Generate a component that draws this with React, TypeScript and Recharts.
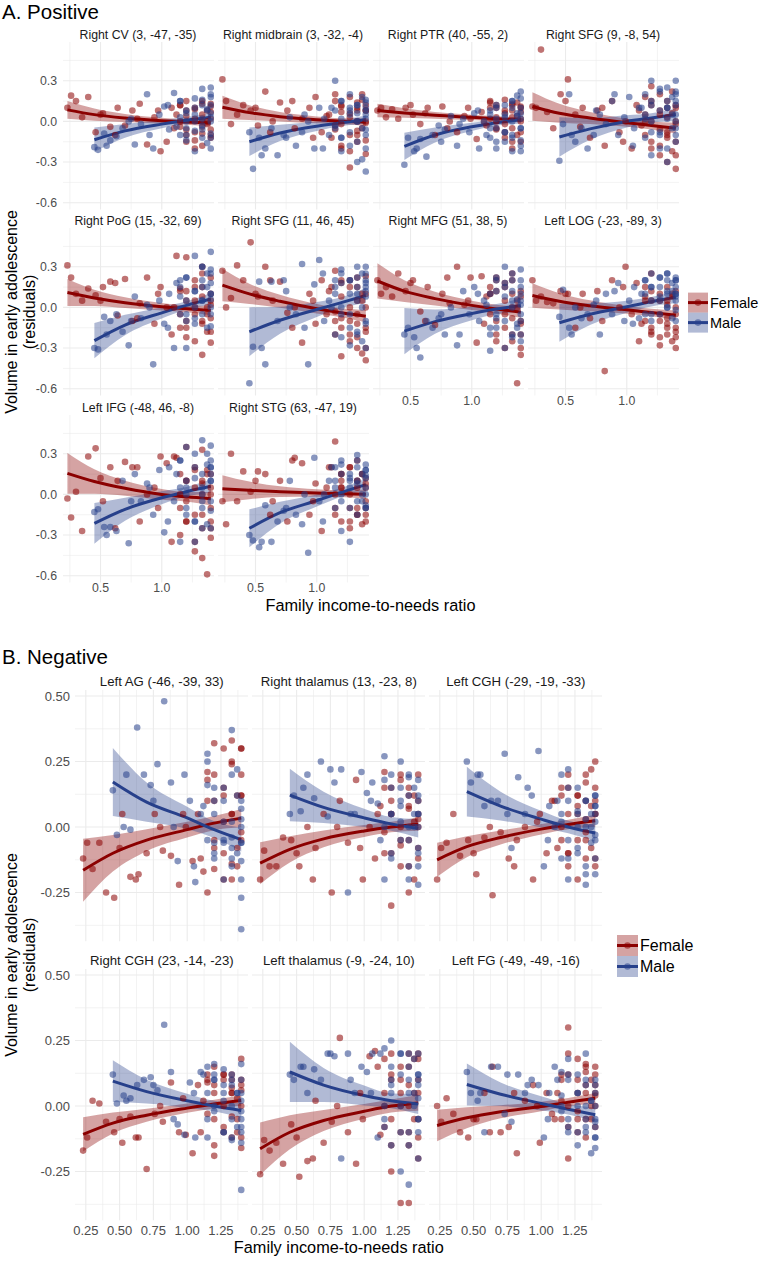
import React from "react";
import { Area, CartesianGrid, ComposedChart, Line, Scatter, XAxis, YAxis } from "recharts";

const RED = "#8b0000";
const BLUE = "#27408b";
const FONT = "'Liberation Sans', Arial, Helvetica, sans-serif";

// income-to-needs ratio of each subject (same subjects in every panel)
const femaleX = [
  0.23, 0.26, 0.3, 0.35, 0.4, 0.46, 0.52, 0.58, 0.64, 0.7,
  0.76, 0.82, 0.88, 0.94, 0.99, 1.04, 1.08, 1.12, 1.15, 1.15,
  1.15, 1.2, 1.2, 1.2, 1.2, 1.27, 1.27, 1.27, 1.27, 1.33,
  1.33, 1.33, 1.33, 1.33, 1.37, 1.37, 1.4, 1.4, 1.4, 1.4,
  0.5, 0.62, 0.8, 0.97, 1.1, 1.15, 1.2, 1.2, 1.27, 1.27,
  1.33, 1.33, 1.37, 1.4, 1.4, 1.4,
];
const maleX = [
  0.45, 0.48, 0.53, 0.58, 0.63, 0.68, 0.73, 0.78, 0.83, 0.88,
  0.93, 0.98, 1.02, 1.06, 1.1, 1.15, 1.15, 1.15, 1.2, 1.2,
  1.2, 1.2, 1.27, 1.27, 1.27, 1.27, 1.33, 1.33, 1.33, 1.33,
  1.33, 1.37, 1.37, 1.4, 1.4, 1.4, 1.4, 1.4, 1.4, 1.4,
  0.55, 0.75, 0.9, 1.05, 1.12, 1.15, 1.2, 1.2, 1.27, 1.27,
  1.33, 1.33, 1.37, 1.4, 1.4, 1.4,
];
// x positions where the fitted curves were read
const femaleFitX = [0.23, 0.45, 0.7, 1.0, 1.2, 1.4];
const maleFitX = [0.45, 0.7, 1.0, 1.2, 1.4];

const posYTicks = [-0.6, -0.3, 0, 0.3];
const posYMinor = [-0.45, -0.15, 0.15, 0.45];
const posXTicks = [0.5, 1.0];
const posXMinor = [0.25, 0.75, 1.25];
const negYTicks = [-0.25, 0, 0.25, 0.5];
const negYMinor = [-0.375, -0.125, 0.125, 0.375];
const negXTicks = [0.25, 0.5, 0.75, 1.0, 1.25];
const negXMinor = [0.375, 0.625, 0.875, 1.125, 1.375];

const rightCV = {
  title: "Right CV (3, -47, -35)",
  femaleY: [
    0.1, 0.19, 0.15, 0.03, 0.18, -0.08, 0.06, -0.04, 0.1, -0.03,
    0.08, 0.13, -0.17, 0.03, -0.22, -0.15, 0.1, 0.05, 0.12, -0.04,
    0.0, 0.15, -0.1, 0.08, -0.06, 0.1, 0.02, -0.14, -0.2, 0.13,
    0.05, -0.09, 0.0, -0.18, 0.08, -0.02, 0.11, -0.12, 0.02, -0.06,
    0.05, -0.1, 0.02, 0.08, -0.05, 0.12, -0.15, 0.04, 0.09, -0.08,
    0.15, -0.04, 0.0, 0.07, -0.1, 0.13,
  ],
  maleY: [
    -0.19, -0.21, -0.09, -0.14, -0.11, -0.05, 0.0, -0.17, -0.02, 0.2,
    -0.2, 0.05, 0.11, -0.06, 0.21, 0.03, -0.1, 0.15, -0.05, 0.08,
    -0.14, 0.0, 0.17, -0.07, 0.05, -0.22, 0.12, 0.02, -0.12, 0.24,
    -0.03, 0.09, -0.16, 0.06, 0.18, -0.09, 0.0, 0.25, -0.2, 0.12,
    -0.18, 0.02, -0.1, 0.12, -0.04, 0.15, 0.06, -0.1, 0.1, 0.0,
    -0.06, 0.16, 0.08, -0.12, 0.03, 0.2,
  ],
  femaleFit: [0.085, 0.05, 0.025, 0.005, -0.005, -0.012],
  femaleSe: [0.065, 0.045, 0.03, 0.022, 0.02, 0.025],
  maleFit: [-0.135, -0.07, -0.02, 0.008, 0.03],
  maleSe: [0.09, 0.05, 0.03, 0.025, 0.03],
};

const rightMidbrain = {
  title: "Right midbrain (3, -32, -4)",
  femaleY: [
    0.31, 0.15, -0.02, 0.05, 0.12, 0.08, -0.03, 0.22, 0.0, 0.14,
    0.08, -0.05, 0.02, 0.1, 0.18, -0.08, 0.04, -0.12, 0.15, -0.03,
    0.2, 0.07, -0.2, -0.02, 0.11, 0.18, -0.1, 0.03, -0.34, 0.08,
    -0.07, 0.14, 0.0, -0.15, 0.2, -0.05, 0.08, -0.24, 0.12, -0.01,
    0.1, -0.08, 0.15, -0.12, 0.05, -0.06, 0.12, -0.18, 0.06, -0.22,
    0.1, -0.1, 0.16, 0.0, -0.14, 0.08,
  ],
  maleY: [
    -0.08, -0.35, -0.12, -0.2, -0.05, -0.25, -0.1, 0.03, -0.18, -0.08,
    0.0, -0.2, 0.1, 0.02, -0.1, 0.3, -0.05, 0.08, -0.12, 0.15,
    0.02, -0.22, 0.05, 0.2, -0.08, 0.1, -0.3, 0.0, 0.12, -0.15,
    0.06, 0.18, -0.05, -0.37, 0.08, 0.14, -0.1, 0.02, -0.2, 0.05,
    -0.25, -0.12, 0.05, -0.2, 0.1, -0.03, 0.15, -0.12, 0.08, -0.18,
    0.12, 0.0, -0.28, 0.1, -0.06, 0.16,
  ],
  femaleFit: [0.105, 0.065, 0.035, 0.012, 0.002, -0.005],
  femaleSe: [0.085, 0.055, 0.035, 0.025, 0.022, 0.028],
  maleFit: [-0.15, -0.085, -0.035, -0.01, 0.012],
  maleSe: [0.105, 0.06, 0.035, 0.025, 0.032],
};

const rightPTR = {
  title: "Right PTR (40, -55, 2)",
  femaleY: [
    0.08, 0.1, 0.03, 0.09, 0.02, 0.1, 0.05, -0.02, 0.1, -0.1,
    0.11, 0.0, -0.08, 0.04, 0.02, -0.13, 0.07, -0.03, 0.02, 0.1,
    0.15, 0.0, -0.05, 0.12, 0.03, 0.16, -0.08, 0.06, -0.12, 0.13,
    0.03, -0.2, 0.08, -0.05, 0.14, -0.1, 0.02, 0.07, -0.15, 0.1,
    0.12, 0.06, -0.05, 0.1, 0.0, 0.14, -0.06, 0.1, -0.02, 0.08,
    -0.15, 0.12, 0.04, -0.08, 0.11, 0.0,
  ],
  maleY: [
    -0.32, -0.12, -0.22, -0.13, -0.26, -0.1, -0.03, -0.06, 0.04, -0.18,
    0.02, -0.08, 0.06, -0.2, 0.0, -0.12, 0.08, -0.05, 0.1, -0.2,
    0.02, -0.05, 0.05, -0.15, 0.12, -0.08, 0.1, -0.22, 0.0, 0.15,
    -0.1, 0.04, 0.19, -0.05, -0.14, 0.06, 0.02, 0.22, -0.18, 0.1,
    -0.2, -0.15, -0.02, 0.08, -0.1, 0.05, -0.15, 0.12, 0.03, -0.08,
    0.15, -0.12, 0.06, 0.17, -0.05, -0.22,
  ],
  femaleFit: [0.08, 0.062, 0.045, 0.03, 0.02, 0.012],
  femaleSe: [0.05, 0.035, 0.025, 0.02, 0.018, 0.02],
  maleFit: [-0.184, -0.1, -0.04, -0.01, 0.012],
  maleSe: [0.1, 0.055, 0.03, 0.022, 0.028],
};

const rightSFG1 = {
  title: "Right SFG (9, -8, 54)",
  femaleY: [
    0.11, 0.1, 0.53, 0.07, -0.05, 0.2, 0.31, 0.05, 0.1, -0.12,
    0.08, -0.18, 0.15, -0.08, 0.0, -0.2, 0.12, -0.03, 0.18, -0.1,
    0.05, 0.26, -0.15, 0.0, 0.12, -0.25, 0.08, -0.06, 0.2, -0.3,
    0.03, -0.12, 0.15, -0.08, -0.22, 0.06, -0.35, 0.1, -0.02, -0.15,
    0.15, -0.04, 0.1, -0.15, 0.08, 0.0, -0.2, 0.15, 0.05, -0.18,
    0.1, -0.1, 0.22, -0.25, 0.0, 0.12,
  ],
  maleY: [
    -0.29, -0.02, 0.2, -0.15, -0.05, -0.2, -0.1, 0.05, -0.02, 0.15,
    -0.1, 0.03, 0.18, -0.05, 0.1, 0.2, -0.12, 0.05, 0.3, -0.08,
    0.12, 0.0, 0.22, -0.1, 0.08, -0.2, 0.15, 0.02, -0.3, 0.1,
    0.25, -0.05, 0.18, 0.0, -0.15, 0.12, 0.3, -0.1, 0.05, 0.2,
    -0.1, 0.08, 0.2, -0.18, 0.1, 0.02, -0.25, 0.15, 0.24, -0.08,
    0.1, -0.2, 0.05, 0.15, -0.05, 0.22,
  ],
  femaleFit: [0.11, 0.06, 0.025, -0.01, -0.03, -0.05],
  femaleSe: [0.105, 0.07, 0.045, 0.03, 0.03, 0.04],
  maleFit: [-0.115, -0.055, 0.0, 0.025, 0.05],
  maleSe: [0.145, 0.08, 0.045, 0.035, 0.045],
};

const rightPoG = {
  title: "Right PoG (15, -32, 69)",
  femaleY: [
    0.31, 0.22, 0.1, 0.05, 0.14, 0.09, 0.15, 0.19, -0.06, 0.21,
    -0.1, 0.03, 0.22, -0.12, 0.15, 0.0, -0.2, 0.38, 0.12, -0.05,
    0.14, -0.1, 0.05, 0.37, -0.15, 0.2, -0.05, 0.0, -0.25, 0.3,
    -0.12, 0.08, -0.35, 0.15, 0.0, -0.18, 0.22, -0.08, 0.05, -0.26,
    0.05, 0.18, -0.08, 0.1, 0.0, -0.15, 0.12, -0.22, 0.05, 0.15,
    -0.1, 0.25, -0.05, 0.1, -0.18, 0.02,
  ],
  maleY: [
    -0.3, -0.31, -0.07, -0.1, -0.05, -0.18, -0.28, 0.08, -0.08, 0.02,
    -0.42, 0.05, -0.12, 0.1, -0.3, 0.2, -0.05, 0.15, 0.22, -0.1,
    0.05, -0.3, 0.12, 0.38, 0.0, -0.12, 0.2, 0.05, 0.3, -0.05,
    0.15, -0.15, 0.25, 0.1, 0.41, 0.0, 0.28, -0.14, 0.18, 0.06,
    -0.2, -0.1, 0.0, -0.15, 0.18, 0.08, -0.05, 0.22, 0.12, -0.08,
    0.3, 0.05, 0.15, -0.05, 0.25, 0.1,
  ],
  femaleFit: [0.11, 0.07, 0.035, 0.005, -0.01, -0.022],
  femaleSe: [0.1, 0.06, 0.04, 0.028, 0.025, 0.035],
  maleFit: [-0.245, -0.13, -0.04, 0.015, 0.062],
  maleSe: [0.13, 0.075, 0.042, 0.03, 0.045],
};

const rightSFG2 = {
  title: "Right SFG (11, 46, 45)",
  femaleY: [
    0.27, 0.0, 0.07, 0.31, 0.2, 0.48, 0.08, 0.3, 0.05, 0.19,
    -0.04, 0.0, -0.26, 0.1, -0.12, 0.2, -0.05, 0.15, -0.1, 0.27,
    -0.03, 0.2, -0.15, 0.08, -0.36, 0.2, -0.2, 0.15, -0.1, 0.05,
    -0.3, 0.22, -0.22, -0.05, 0.1, -0.34, 0.0, -0.15, 0.23, -0.39,
    0.1, 0.2, -0.15, 0.05, 0.12, -0.2, 0.18, -0.08, 0.0, -0.25,
    0.15, -0.12, 0.05, -0.3, 0.1, -0.18,
  ],
  maleY: [
    -0.56, -0.29, 0.19, -0.42, 0.19, -0.1, 0.2, 0.0, -0.05, 0.32,
    -0.42, 0.17, 0.35, -0.1, 0.05, 0.2, -0.2, 0.1, 0.18, -0.05,
    0.25, 0.0, -0.15, 0.2, 0.1, -0.28, 0.3, 0.05, -0.2, 0.15,
    0.22, 0.0, -0.25, 0.12, 0.3, -0.12, 0.2, 0.08, -0.3, 0.25,
    -0.3, 0.12, -0.15, 0.25, 0.0, 0.15, -0.22, 0.28, -0.05, 0.2,
    0.1, -0.18, 0.25, 0.15, -0.1, 0.18,
  ],
  femaleFit: [0.165, 0.1, 0.045, -0.01, -0.04, -0.065],
  femaleSe: [0.12, 0.075, 0.048, 0.035, 0.033, 0.045],
  maleFit: [-0.18, -0.095, -0.015, 0.035, 0.088],
  maleSe: [0.18, 0.1, 0.055, 0.04, 0.055],
};

const rightMFG = {
  title: "Right MFG (51, 38, 5)",
  femaleY: [
    0.2, 0.1, 0.15, 0.08, 0.25, 0.12, 0.2, -0.03, 0.15, -0.13,
    0.1, 0.03, 0.3, 0.02, 0.22, -0.26, 0.23, 0.08, 0.1, -0.05,
    0.15, -0.1, 0.22, -0.2, 0.12, 0.05, -0.3, 0.18, -0.15, 0.0,
    0.2, -0.08, -0.25, 0.1, -0.56, 0.05, -0.12, -0.2, 0.08, -0.3,
    0.18, -0.1, 0.22, 0.05, -0.12, 0.1, 0.2, -0.25, -0.05, 0.15,
    0.25, -0.2, 0.0, -0.35, 0.12, -0.1,
  ],
  maleY: [
    -0.2, -0.15, -0.22, -0.37, -0.1, -0.15, -0.08, -0.2, 0.0, -0.28,
    0.12, -0.05, 0.15, -0.1, 0.05, -0.2, 0.1, -0.32, 0.12, -0.05,
    0.2, -0.15, 0.08, 0.3, -0.1, 0.18, -0.22, 0.0, 0.2, 0.12,
    -0.2, 0.06, -0.15, 0.28, -0.05, 0.1, 0.15, -0.25, 0.05, -0.1,
    -0.3, -0.05, -0.2, 0.1, 0.02, -0.15, 0.22, -0.08, 0.15, -0.3,
    0.05, 0.25, -0.12, 0.2, -0.2, 0.02,
  ],
  femaleFit: [0.195, 0.12, 0.065, 0.015, -0.012, -0.035],
  femaleSe: [0.13, 0.08, 0.05, 0.035, 0.032, 0.042],
  maleFit: [-0.175, -0.105, -0.045, -0.012, 0.015],
  maleSe: [0.17, 0.09, 0.05, 0.037, 0.05],
};

const leftLOG = {
  title: "Left LOG (-23, -89, 3)",
  femaleY: [
    0.2, 0.05, 0.08, 0.04, 0.03, 0.12, 0.1, -0.15, 0.1, -0.08,
    0.12, -0.47, 0.2, 0.0, 0.3, -0.05, 0.18, -0.12, 0.15, 0.08,
    -0.1, 0.25, -0.2, 0.05, -0.15, 0.1, -0.05, -0.22, 0.05, -0.12,
    0.15, -0.2, -0.08, 0.02, -0.25, 0.08, -0.15, 0.12, -0.05, -0.18,
    0.1, 0.0, -0.1, 0.15, -0.25, 0.05, -0.18, 0.12, -0.1, -0.28,
    0.05, -0.15, 0.1, -0.22, -0.3, 0.0,
  ],
  maleY: [
    -0.07, 0.13, -0.15, 0.0, -0.08, -0.05, 0.02, -0.2, 0.1, -0.05,
    0.18, -0.1, 0.05, 0.15, -0.08, 0.2, 0.1, -0.05, 0.25, 0.05,
    0.15, -0.1, 0.22, 0.08, 0.15, -0.05, 0.2, 0.1, 0.0, 0.25,
    0.12, -0.08, 0.18, 0.05, 0.22, 0.1, 0.15, -0.02, 0.08, 0.2,
    -0.2, 0.05, 0.12, -0.12, 0.1, 0.2, -0.05, 0.15, 0.22, 0.05,
    0.25, 0.0, 0.12, 0.2, -0.1, 0.1,
  ],
  femaleFit: [0.088, 0.045, 0.012, -0.018, -0.038, -0.058],
  femaleSe: [0.09, 0.06, 0.04, 0.028, 0.028, 0.035],
  maleFit: [-0.113, -0.05, 0.005, 0.042, 0.075],
  maleSe: [0.14, 0.08, 0.045, 0.035, 0.045],
};

const leftIFG = {
  title: "Left IFG (-48, 46, -8)",
  femaleY: [
    -0.03, -0.17, 0.02, -0.27, 0.28, 0.34, -0.05, 0.2, 0.1, 0.24,
    0.2, -0.2, 0.0, 0.05, 0.28, 0.23, -0.35, 0.27, 0.0, 0.15,
    -0.1, 0.35, -0.2, 0.1, -0.05, 0.18, -0.42, 0.05, -0.15, 0.33,
    -0.47, 0.1, -0.25, 0.0, -0.59, 0.15, -0.1, -0.2, 0.05, -0.25,
    0.12, -0.25, 0.2, -0.1, 0.28, -0.3, 0.1, -0.2, 0.2, -0.35,
    0.08, -0.15, 0.18, -0.32, 0.0, 0.15,
  ],
  maleY: [
    -0.13, -0.11, -0.24, -0.24, -0.27, 0.1, -0.36, 0.15, -0.05, 0.08,
    -0.15, 0.18, -0.28, 0.2, -0.05, 0.25, -0.35, 0.05, 0.1, -0.15,
    0.0, 0.35, -0.2, 0.12, -0.35, 0.2, 0.0, -0.25, 0.4, 0.05,
    -0.1, 0.3, -0.22, 0.1, 0.2, -0.05, 0.25, 0.15, -0.12, 0.36,
    -0.3, -0.05, 0.05, -0.2, 0.15, 0.25, -0.1, 0.05, 0.3, -0.2,
    0.15, -0.05, 0.22, 0.1, -0.25, 0.2,
  ],
  femaleFit: [0.155, 0.095, 0.045, 0.0, -0.018, -0.032],
  femaleSe: [0.15, 0.09, 0.055, 0.04, 0.035, 0.05],
  maleFit: [-0.214, -0.11, -0.025, 0.02, 0.06],
  maleSe: [0.15, 0.085, 0.048, 0.035, 0.05],
};

const rightSTG = {
  title: "Right STG (63, -47, 19)",
  femaleY: [
    -0.05, -0.22, 0.3, -0.05, 0.17, 0.02, 0.17, 0.15, -0.05, 0.1,
    -0.2, 0.27, 0.23, -0.15, 0.08, -0.27, 0.05, 0.2, -0.15, 0.0,
    0.39, 0.1, -0.2, 0.05, 0.15, -0.1, 0.2, -0.25, 0.0, 0.1,
    -0.15, 0.25, 0.05, -0.1, 0.15, -0.22, 0.08, -0.05, 0.12, -0.2,
    0.1, -0.15, 0.25, -0.05, 0.2, -0.1, 0.15, 0.05, -0.2, 0.2,
    0.1, -0.15, 0.15, -0.1, 0.05, -0.15,
  ],
  maleY: [
    -0.3, -0.34, -0.39, -0.08, -0.35, -0.2, -0.12, 0.1, -0.15, -0.22,
    -0.43, 0.27, -0.05, 0.0, 0.1, 0.2, -0.1, 0.05, 0.15, -0.27,
    0.22, 0.0, 0.1, -0.35, 0.12, 0.05, 0.29, -0.15, 0.2, 0.08,
    -0.05, 0.15, 0.0, 0.22, -0.1, 0.12, 0.05, 0.18, -0.08, 0.14,
    -0.35, -0.1, 0.0, -0.2, 0.2, 0.1, -0.05, 0.25, 0.15, -0.1,
    0.1, 0.25, -0.05, 0.18, 0.0, -0.1,
  ],
  femaleFit: [0.042, 0.03, 0.02, 0.01, 0.005, 0.002],
  femaleSe: [0.1, 0.065, 0.04, 0.028, 0.025, 0.035],
  maleFit: [-0.25, -0.135, -0.045, 0.015, 0.072],
  maleSe: [0.14, 0.08, 0.045, 0.032, 0.045],
};

const leftAG = {
  title: "Left AG (-46, -39, 33)",
  femaleY: [
    -0.12, -0.06, -0.16, -0.06, -0.25, -0.27, 0.05, -0.19, -0.18, -0.1,
    0.05, -0.09, -0.11, -0.22, 0.0, -0.13, 0.05, -0.17, 0.21, -0.25,
    0.18, 0.32, -0.05, 0.1, -0.16, 0.3, 0.12, -0.1, 0.02, 0.24,
    -0.2, 0.33, 0.05, -0.14, 0.12, -0.08, 0.2, 0.3, -0.02, 0.12,
    -0.08, -0.2, 0.0, 0.05, -0.12, 0.1, 0.2, -0.08, 0.15, -0.2,
    0.05, 0.25, -0.15, 0.12, -0.05, 0.3,
  ],
  maleY: [
    0.14, -0.03, 0.0, -0.01, 0.38, 0.2, 0.16, 0.24, 0.48, 0.17,
    -0.13, 0.2, 0.1, -0.21, 0.05, 0.16, 0.28, -0.05, -0.06, -0.12,
    0.15, 0.05, -0.2, 0.1, -0.06, 0.02, -0.08, 0.2, -0.15, 0.37,
    -0.04, 0.12, -0.1, -0.27, 0.0, -0.06, -0.39, 0.07, -0.13, 0.03,
    0.2, 0.1, 0.0, -0.15, 0.08, 0.25, -0.1, 0.1, -0.05, 0.15,
    0.02, -0.12, 0.22, -0.06, 0.1, -0.2,
  ],
  femaleFit: [-0.165, -0.1, -0.05, -0.01, 0.015, 0.034],
  femaleSe: [0.12, 0.07, 0.042, 0.03, 0.027, 0.035],
  maleFit: [0.172, 0.095, 0.035, -0.01, -0.048],
  maleSe: [0.13, 0.075, 0.042, 0.032, 0.045],
};

const rightThalamus = {
  title: "Right thalamus (13, -23, 8)",
  femaleY: [
    -0.2, -0.09, -0.15, -0.15, -0.04, -0.05, -0.15, 0.0, -0.08, 0.05,
    -0.25, 0.1, -0.06, 0.18, -0.2, 0.0, -0.12, 0.08, -0.02, 0.21,
    -0.1, 0.15, -0.3, 0.05, 0.1, -0.07, 0.2, -0.15, 0.0, 0.12,
    -0.25, 0.07, -0.05, 0.15, -0.2, 0.02, 0.1, -0.12, 0.05, 0.0,
    -0.1, -0.2, 0.0, -0.08, 0.05, 0.15, -0.1, 0.05, 0.18, -0.05,
    0.08, -0.15, 0.12, -0.08, 0.2, 0.03,
  ],
  maleY: [
    0.05, 0.12, 0.06, 0.2, 0.11, 0.25, 0.04, 0.17, 0.22, -0.25,
    0.05, 0.21, 0.13, 0.17, 0.09, 0.27, -0.2, 0.0, 0.15, 0.05,
    0.2, -0.1, 0.1, -0.05, 0.25, 0.02, -0.15, 0.12, 0.0, 0.19,
    -0.2, 0.05, 0.15, -0.08, 0.0, 0.12, -0.22, 0.05, 0.18, -0.1,
    0.15, 0.22, 0.05, 0.1, -0.05, 0.18, 0.05, -0.12, 0.08, 0.15,
    -0.05, 0.2, 0.0, 0.1, -0.15, 0.05,
  ],
  femaleFit: [-0.138, -0.085, -0.045, -0.015, 0.0, 0.011],
  femaleSe: [0.08, 0.05, 0.032, 0.023, 0.02, 0.025],
  maleFit: [0.122, 0.075, 0.035, 0.012, -0.005],
  maleSe: [0.1, 0.06, 0.035, 0.026, 0.035],
};

const leftCGH = {
  title: "Left CGH (-29, -19, -33)",
  femaleY: [
    -0.2, -0.08, -0.06, 0.05, -0.11, -0.05, -0.18, -0.04, -0.26, -0.02,
    -0.12, -0.05, 0.0, -0.2, 0.05, -0.1, 0.1, -0.08, 0.12, 0.0,
    0.15, -0.15, 0.05, 0.2, -0.1, 0.12, -0.05, 0.08, -0.2, 0.17,
    0.03, -0.12, 0.1, -0.02, 0.22, -0.08, 0.05, 0.25, -0.15, 0.1,
    -0.1, 0.0, -0.15, 0.02, 0.1, -0.05, 0.15, -0.1, 0.05, 0.12,
    -0.05, 0.2, 0.08, -0.12, 0.05, 0.15,
  ],
  maleY: [
    0.25, 0.17, 0.2, 0.08, 0.1, 0.1, 0.28, -0.08, 0.19, 0.05,
    0.12, 0.29, -0.15, 0.08, 0.0, 0.2, -0.12, 0.05, 0.22, -0.05,
    0.1, -0.2, 0.0, 0.06, -0.1, 0.15, 0.03, -0.18, 0.1, 0.0,
    -0.22, 0.05, -0.06, 0.08, -0.12, 0.02, -0.03, 0.12, -0.18, 0.05,
    0.2, 0.05, 0.15, -0.05, 0.1, 0.02, -0.12, 0.15, 0.05, -0.08,
    0.1, -0.15, 0.0, 0.08, -0.05, 0.12,
  ],
  femaleFit: [-0.125, -0.075, -0.04, -0.008, 0.01, 0.024],
  femaleSe: [0.065, 0.04, 0.027, 0.02, 0.018, 0.023],
  maleFit: [0.135, 0.08, 0.03, 0.0, -0.023],
  maleSe: [0.095, 0.055, 0.032, 0.024, 0.032],
};

const rightCGH = {
  title: "Right CGH (23, -14, -23)",
  femaleY: [
    -0.17, -0.12, 0.02, 0.01, -0.06, -0.1, -0.14, -0.04, -0.12, -0.24,
    -0.03, -0.06, 0.09, -0.1, -0.11, -0.18, 0.08, 0.02, 0.09, -0.03,
    0.1, 0.15, -0.19, 0.05, -0.15, 0.12, 0.0, -0.08, 0.1, 0.05,
    -0.12, 0.07, 0.12, -0.04, -0.1, 0.03, 0.18, -0.16, 0.06, 0.0,
    -0.05, -0.12, 0.0, 0.03, -0.1, 0.12, 0.08, -0.05, 0.12, -0.1,
    0.05, 0.1, -0.05, 0.08, -0.12, 0.1,
  ],
  maleY: [
    0.12, 0.01, 0.04, 0.03, 0.08, 0.1, 0.11, 0.06, 0.31, 0.13,
    -0.07, -0.11, 0.09, -0.12, 0.13, 0.15, -0.12, 0.05, 0.16, -0.02,
    0.1, 0.12, -0.1, 0.05, 0.02, 0.14, -0.05, 0.08, -0.13, 0.1,
    0.0, -0.08, 0.05, 0.16, -0.1, -0.02, 0.05, -0.32, -0.14, 0.02,
    0.02, 0.08, -0.05, 0.05, 0.12, -0.05, 0.1, 0.0, -0.1, 0.08,
    0.12, -0.12, 0.05, -0.05, 0.1, -0.08,
  ],
  femaleFit: [-0.108, -0.065, -0.035, -0.008, 0.008, 0.021],
  femaleSe: [0.065, 0.04, 0.025, 0.018, 0.016, 0.02],
  maleFit: [0.095, 0.055, 0.02, 0.0, -0.017],
  maleSe: [0.08, 0.045, 0.027, 0.02, 0.028],
};

const leftThalamus = {
  title: "Left thalamus (-9, -24, 10)",
  femaleY: [
    -0.26, -0.13, -0.17, -0.14, -0.22, -0.07, -0.27, -0.21, 0.02, -0.14,
    -0.06, 0.26, -0.1, -0.22, -0.05, 0.19, 0.21, -0.11, 0.0, 0.05,
    0.18, -0.05, 0.1, -0.25, 0.12, -0.37, 0.05, 0.15, -0.1, 0.2,
    -0.37, 0.08, -0.15, 0.0, 0.18, -0.05, 0.1, -0.2, 0.05, 0.18,
    -0.12, -0.2, 0.0, 0.05, 0.15, -0.08, 0.2, -0.15, 0.1, 0.0,
    -0.1, 0.15, 0.05, -0.12, 0.2, -0.05,
  ],
  maleY: [
    0.12, 0.1, 0.15, 0.05, 0.14, 0.1, 0.2, 0.19, -0.2, 0.2,
    0.05, 0.15, 0.13, 0.2, -0.12, 0.0, 0.22, -0.08, 0.25, 0.05,
    -0.15, 0.1, 0.2, -0.25, 0.0, 0.12, -0.3, 0.15, 0.05, 0.2,
    -0.1, 0.0, 0.18, -0.05, 0.1, -0.2, 0.12, 0.03, -0.1, 0.08,
    0.15, 0.2, 0.1, 0.05, 0.2, -0.05, 0.15, 0.08, -0.1, 0.2,
    0.1, -0.15, 0.05, 0.2, -0.05, 0.12,
  ],
  femaleFit: [-0.163, -0.1, -0.055, -0.02, 0.0, 0.012],
  femaleSe: [0.1, 0.065, 0.04, 0.028, 0.025, 0.03],
  maleFit: [0.13, 0.08, 0.04, 0.02, 0.008],
  maleSe: [0.115, 0.065, 0.038, 0.028, 0.038],
};

const leftFG = {
  title: "Left FG (-49, -49, -16)",
  femaleY: [
    0.0, -0.06, 0.03, -0.03, -0.1, -0.12, -0.05, 0.05, 0.15, -0.1,
    -0.08, -0.18, 0.02, 0.08, -0.14, 0.05, -0.03, 0.05, -0.05, 0.02,
    0.1, -0.2, 0.0, 0.12, 0.3, -0.05, 0.18, 0.05, -0.1, 0.16,
    0.05, -0.05, 0.13, -0.12, 0.0, 0.1, 0.08, 0.15, -0.08, 0.04,
    -0.05, -0.1, 0.05, 0.0, -0.05, 0.12, 0.2, -0.08, 0.1, -0.02,
    0.08, 0.15, -0.05, 0.12, 0.05, 0.0,
  ],
  maleY: [
    0.13, 0.05, 0.02, -0.1, 0.15, 0.15, -0.03, -0.06, 0.12, 0.05,
    0.1, 0.08, -0.12, 0.05, 0.15, 0.13, -0.02, 0.04, -0.05, 0.18,
    0.1, -0.1, 0.05, -0.15, 0.0, 0.12, -0.08, 0.2, 0.0, -0.1,
    0.08, -0.18, 0.02, -0.05, 0.1, -0.12, 0.0, -0.06, -0.16, 0.05,
    0.05, 0.12, 0.08, -0.05, 0.1, 0.0, -0.08, 0.12, 0.05, -0.1,
    0.1, -0.05, 0.02, -0.12, 0.08, -0.08,
  ],
  femaleFit: [-0.074, -0.045, -0.022, -0.002, 0.015, 0.03],
  femaleSe: [0.06, 0.04, 0.025, 0.018, 0.016, 0.02],
  maleFit: [0.082, 0.045, 0.01, -0.012, -0.033],
  maleSe: [0.08, 0.045, 0.027, 0.02, 0.027],
};

const positivePanels = [
  rightCV, rightMidbrain, rightPTR, rightSFG1,
  rightPoG, rightSFG2, rightMFG, leftLOG,
  leftIFG, rightSTG,
];
const negativePanels = [leftAG, rightThalamus, leftCGH, rightCGH, leftThalamus, leftFG];

type PanelData = typeof rightCV;

type Cfg = {
  xDomain: [number, number];
  yDomain: [number, number];
  yTicks: number[];
  yMinor: number[];
  xTicks: number[];
  xMinor: number[];
  digitsY: number;
  digitsX: number;
  w: number;
  h: number;
  tick: number;
  yAxisW: number;
  xAxisH: number;
  marginX: number;
  marginY: number;
};

const posCfg: Cfg = {
  xDomain: [0.194, 1.426],
  yDomain: [-0.65, 0.586],
  yTicks: posYTicks,
  yMinor: posYMinor,
  xTicks: posXTicks,
  xMinor: posXMinor,
  digitsY: 1,
  digitsX: 1,
  w: 151,
  h: 167.5,
  tick: 12.3,
  yAxisW: 45,
  xAxisH: 22,
  marginX: 1,
  marginY: 6,
};

const negCfg: Cfg = {
  xDomain: [0.17, 1.45],
  yDomain: [-0.436, 0.523],
  yTicks: negYTicks,
  yMinor: negYMinor,
  xTicks: negXTicks,
  xMinor: negXMinor,
  digitsY: 2,
  digitsX: 2,
  w: 173,
  h: 251.3,
  tick: 13,
  yAxisW: 60,
  xAxisH: 24,
  marginX: 5,
  marginY: 5,
};

// room around each plot so edge tick labels are not clipped
const PAD = 16;

const dot = (color: string) => (props: any) =>
  <circle cx={props.cx} cy={props.cy} r={3.3} fill={color} fillOpacity={0.55} />;

function Panel({ p, cfg, left, top, showX, showY }: { p: PanelData; cfg: Cfg; left: number; top: number; showX: boolean; showY: boolean }) {
  const yw = showY ? cfg.yAxisW : 0;
  const xh = showX ? cfg.xAxisH : 0;
  const ptsF = femaleX.map((x, i) => ({ x, y: p.femaleY[i] }));
  const ptsM = maleX.map((x, i) => ({ x, y: p.maleY[i] }));
  const fitF = femaleFitX.map((x, i) => ({ x, y: p.femaleFit[i], band: [p.femaleFit[i] - p.femaleSe[i], p.femaleFit[i] + p.femaleSe[i]] }));
  const fitM = maleFitX.map((x, i) => ({ x, y: p.maleFit[i], band: [p.maleFit[i] - p.maleSe[i], p.maleFit[i] + p.maleSe[i]] }));
  const tickStyle = { fontSize: cfg.tick, fill: "#4d4d4d", fontFamily: FONT };
  return (
    <div style={{ position: "absolute", left: left - yw - PAD, top: top - PAD }}>
      <ComposedChart
        width={cfg.w + yw + 2 * PAD}
        height={cfg.h + xh + 2 * PAD}
        margin={{ top: PAD, right: PAD, bottom: PAD, left: PAD }}
      >
        <CartesianGrid stroke="#ebebeb" strokeWidth={0.6} horizontalValues={cfg.yMinor} verticalValues={cfg.xMinor} />
        <CartesianGrid stroke="#ebebeb" strokeWidth={1.1} horizontalValues={cfg.yTicks} verticalValues={cfg.xTicks} />
        <XAxis
          type="number"
          dataKey="x"
          domain={cfg.xDomain}
          allowDataOverflow
          ticks={cfg.xTicks}
          interval={0}
          tickFormatter={(v: number) => v.toFixed(cfg.digitsX)}
          hide={!showX}
          height={xh}
          tickLine={false}
          axisLine={false}
          tickSize={0}
          tickMargin={cfg.marginX}
          tick={tickStyle}
        />
        <YAxis
          type="number"
          dataKey="y"
          domain={cfg.yDomain}
          allowDataOverflow
          ticks={cfg.yTicks}
          interval={0}
          tickFormatter={(v: number) => v.toFixed(cfg.digitsY)}
          hide={!showY}
          width={yw}
          tickLine={false}
          axisLine={false}
          tickSize={0}
          tickMargin={cfg.marginY}
          tick={tickStyle}
        />
        <Scatter data={ptsF} shape={dot(RED)} isAnimationActive={false} />
        <Scatter data={ptsM} shape={dot(BLUE)} isAnimationActive={false} />
        <Area data={fitF} dataKey="band" type="monotone" stroke="none" fill={RED} fillOpacity={0.36} isAnimationActive={false} />
        <Line data={fitF} dataKey="y" type="monotone" stroke={RED} strokeWidth={3} dot={false} activeDot={false} isAnimationActive={false} />
        <Area data={fitM} dataKey="band" type="monotone" stroke="none" fill={BLUE} fillOpacity={0.36} isAnimationActive={false} />
        <Line data={fitM} dataKey="y" type="monotone" stroke={BLUE} strokeWidth={3} dot={false} activeDot={false} isAnimationActive={false} />
      </ComposedChart>
    </div>
  );
}

function LegendKeys({ x, y, size, fontSize }: { x: number; y: number; size: number; fontSize: number }) {
  const rows = [
    { label: "Female", color: RED },
    { label: "Male", color: BLUE },
  ];
  return (
    <g>
      {rows.map((r, i) => (
        <g key={r.label} transform={`translate(${x}, ${y + i * size})`}>
          <rect x={0} y={0} width={size} height={size} fill={r.color} fillOpacity={0.36} />
          <circle cx={size / 2} cy={size / 2} r={3.3} fill={r.color} fillOpacity={0.55} />
          <line x1={0} x2={size} y1={size / 2} y2={size / 2} stroke={r.color} strokeWidth={3} />
          <text x={size + 2} y={size / 2} dominantBaseline="central" fontSize={fontSize} fill="#000">{r.label}</text>
        </g>
      ))}
    </g>
  );
}

const posLefts = [62.5, 217.5, 372.5, 527.5];
const posTops = [41.6, 228.1, 414.7];
const negLefts = [75.3, 252.3, 429.3];
const negTops = [690.3, 968.7];

export default function App() {
  return (
    <div style={{ position: "absolute", left: 0, top: 0, width: 760, height: 1261, background: "#fff", fontFamily: FONT, overflow: "hidden" }}>
      {positivePanels.map((p, i) => {
        const r = Math.floor(i / 4);
        const c = i % 4;
        const bottom = r === 2 || (r === 1 && c >= 2);
        return <Panel key={p.title} p={p} cfg={posCfg} left={posLefts[c]} top={posTops[r]} showX={bottom} showY={c === 0} />;
      })}
      {negativePanels.map((p, i) => {
        const r = Math.floor(i / 3);
        const c = i % 3;
        return <Panel key={p.title} p={p} cfg={negCfg} left={negLefts[c]} top={negTops[r]} showX={r === 1} showY={c === 0} />;
      })}
      <svg width={760} height={1261} style={{ position: "absolute", left: 0, top: 0, pointerEvents: "none" }} fontFamily={FONT}>
        <text x={2} y={11} dominantBaseline="central" fontSize={20.5} fill="#000">A. Positive</text>
        <text x={2} y={656} dominantBaseline="central" fontSize={20.5} fill="#000">B. Negative</text>
        {positivePanels.map((p, i) => (
          <text key={p.title} x={posLefts[i % 4] + posCfg.w / 2} y={posTops[Math.floor(i / 4)] - 7} textAnchor="middle" dominantBaseline="central" fontSize={12.3} fill="#1a1a1a">
            {p.title}
          </text>
        ))}
        {negativePanels.map((p, i) => (
          <text key={p.title} x={negLefts[i % 3] + negCfg.w / 2} y={negTops[Math.floor(i / 3)] - 8.5} textAnchor="middle" dominantBaseline="central" fontSize={13.2} fill="#1a1a1a">
            {p.title}
          </text>
        ))}
        <g transform="translate(0, 312) rotate(-90)">
          <text x={0} y={11} textAnchor="middle" dominantBaseline="central" fontSize={16} fill="#000">Volume in early adolescence</text>
          <text x={0} y={29} textAnchor="middle" dominantBaseline="central" fontSize={16} fill="#000">(residuals)</text>
        </g>
        <g transform="translate(0, 955) rotate(-90)">
          <text x={0} y={11} textAnchor="middle" dominantBaseline="central" fontSize={16} fill="#000">Volume in early adolescence</text>
          <text x={0} y={29} textAnchor="middle" dominantBaseline="central" fontSize={16} fill="#000">(residuals)</text>
        </g>
        <text x={370.5} y={605} textAnchor="middle" dominantBaseline="central" fontSize={16.3} fill="#000">Family income-to-needs ratio</text>
        <text x={338.8} y={1247} textAnchor="middle" dominantBaseline="central" fontSize={16.3} fill="#000">Family income-to-needs ratio</text>
        <LegendKeys x={688} y={292.6} size={20} fontSize={14.5} />
        <LegendKeys x={617} y={935} size={21} fontSize={16} />
      </svg>
    </div>
  );
}
